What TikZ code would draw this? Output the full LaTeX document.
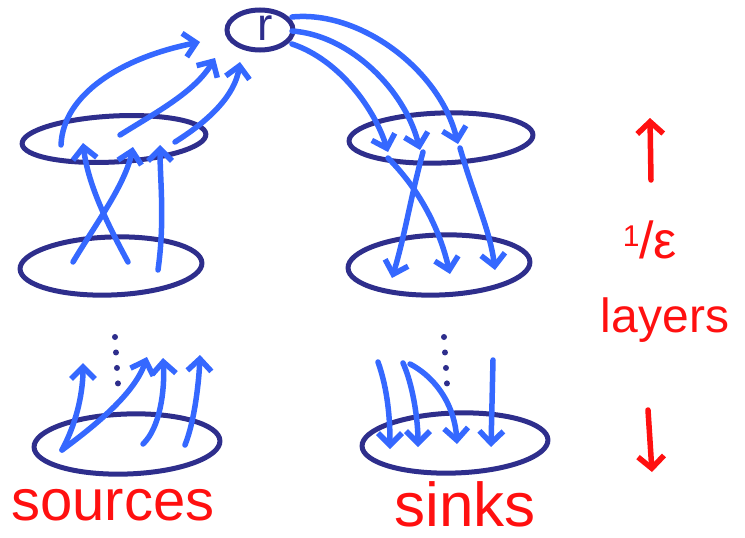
\documentclass[tikz,border=0pt]{standalone}
\usepackage{fontspec}
\setmainfont{Liberation Sans}
\usetikzlibrary{shapes.geometric,arrows.meta}
\definecolor{navy}{HTML}{2E2E8C}
\definecolor{penblue}{HTML}{3568FF}
\definecolor{penred}{HTML}{FF1010}
\tikzset{
  layer/.style={ellipse, draw=navy, line width=5pt, inner sep=0pt},
  flow/.style={draw=penblue, line width=5.5pt, line cap=round,
    -{Straight Barb[length=12pt,width=24pt,line width=5.5pt]}},
  redarrow/.style={draw=penred, line width=5.5pt, line cap=round,
    -{Straight Barb[length=12pt,width=26pt,line width=5.5pt]}},
  dotline/.style={draw=navy, line width=6pt, line cap=round, dash pattern=on 0pt off 15.5pt},
  redtext/.style={text=penred, inner sep=0pt}
}
\begin{document}
\begin{tikzpicture}[x=1pt,y=-1pt]
\useasboundingbox (0,0) rectangle (745,538);
% layers
\node[layer, minimum width=66pt, minimum height=40pt] (root) at (260,30) {};
\node[text=navy, font=\fontsize{46}{46}\selectfont, inner sep=0pt] (rlabel) at (265,28) {r};
\node[layer, minimum width=184pt, minimum height=46pt, rotate=3] (L1) at (114,139) {};
\node[layer, minimum width=182pt, minimum height=58pt, rotate=2] (L2) at (111,266) {};
\node[layer, minimum width=186pt, minimum height=60pt, rotate=2] (L3) at (127,444) {};
\node[layer, minimum width=184pt, minimum height=50pt, rotate=2] (R1) at (441,138) {};
\node[layer, minimum width=182pt, minimum height=60pt, rotate=2] (R2) at (439,265) {};
\node[layer, minimum width=186pt, minimum height=60pt, rotate=2] (R3) at (455,443) {};
% endpoints
\coordinate (ra) at (200,42);
\coordinate (rb) at (215,58);
\coordinate (rc) at (240,62);
\coordinate (l1a) at (61,145);
\coordinate (l1b) at (120,135);
\coordinate (l1c) at (175,142);
\coordinate (l1x) at (83,143);
\coordinate (l1y) at (133,147);
\coordinate (l1z) at (160,145);
\coordinate (l2a) at (73,262);
\coordinate (l2b) at (128,262);
\coordinate (l2c) at (158,270);
\coordinate (l3a) at (62,450);
\coordinate (l3b) at (143,444);
\coordinate (l3c) at (185,445);
\coordinate (u1) at (83,363);
\coordinate (u2) at (147,357);
\coordinate (u3) at (163,358);
\coordinate (u4) at (200,355);
\coordinate (so1) at (292,17);
\coordinate (so2) at (292,31);
\coordinate (so3) at (292,44);
\coordinate (r1a) at (388,152);
\coordinate (r1b) at (420,150);
\coordinate (r1c) at (458,144);
\coordinate (r1x) at (388,158);
\coordinate (r1y) at (423,152);
\coordinate (r1z) at (460,148);
\coordinate (r2a) at (392,278);
\coordinate (r2b) at (450,274);
\coordinate (r2c) at (495,270);
\coordinate (d1) at (378,362);
\coordinate (d2) at (403,363);
\coordinate (d3) at (410,364);
\coordinate (d4) at (493,360);
\coordinate (r3a) at (390,449);
\coordinate (r3b) at (418,447);
\coordinate (r3c) at (457,444);
\coordinate (r3d) at (491,447);
% left side flows
\draw[flow] (l1a) .. controls (63,95) and (120,58) .. (ra);
\draw[flow] (l1b) .. controls (155,113) and (195,92) .. (rb);
\draw[flow] (l1c) .. controls (210,120) and (235,95) .. (rc);
\draw[flow] (l2a) .. controls (95,225) and (125,185) .. (l1y);
\draw[flow] (l2b) .. controls (108,225) and (88,185) .. (l1x);
\draw[flow] (l2c) .. controls (165,220) and (160,180) .. (l1z);
\draw[flow] (l3a) .. controls (78,420) and (83,390) .. (u1);
\draw[flow] (l3a) .. controls (100,422) and (135,392) .. (u2);
\draw[flow] (l3b) .. controls (160,428) and (165,390) .. (u3);
\draw[flow] (l3c) .. controls (195,420) and (199,380) .. (u4);
% right side flows
\draw[flow] (so1) .. controls (360,10) and (440,70) .. (r1c);
\draw[flow] (so2) .. controls (350,35) and (405,90) .. (r1b);
\draw[flow] (so3) .. controls (340,60) and (375,110) .. (r1a);
\draw[flow] (r1x) .. controls (420,190) and (440,230) .. (r2b);
\draw[flow] (r1y) .. controls (410,200) and (405,235) .. (r2a);
\draw[flow] (r1z) .. controls (475,200) and (490,230) .. (r2c);
\draw[flow] (d1) .. controls (388,390) and (390,420) .. (r3a);
\draw[flow] (d2) .. controls (413,385) and (418,420) .. (r3b);
\draw[flow] (d3) .. controls (440,380) and (455,410) .. (r3c);
\draw[flow] (d4) -- (r3d);
% dots
\coordinate (ldot1) at (115,337);
\coordinate (ldot2) at (118,384);
\coordinate (rdot1) at (444,337);
\coordinate (rdot2) at (447,384);
\draw[dotline] (ldot1) -- (ldot2);
\draw[dotline] (rdot1) -- (rdot2);
% labels
\node[redtext, font=\fontsize{58}{58}\selectfont] (sources) at (113,505) {sources};
\node[redtext, font=\fontsize{62}{62}\selectfont] (sinks) at (465,504) {sinks};
\coordinate (up1) at (651,180);
\coordinate (up2) at (650,118);
\coordinate (dn1) at (648,410);
\coordinate (dn2) at (652,472);
\draw[redarrow] (up1) -- (up2);
\draw[redarrow] (dn1) -- (dn2);
\node[redtext, font=\fontsize{52}{52}\selectfont] (eps) at (650,240) {\raisebox{12pt}{\fontsize{30}{30}\selectfont 1}/ε};
\node[redtext, font=\fontsize{48}{48}\selectfont] (layers) at (665,320) {layers};
\end{tikzpicture}
\end{document}
